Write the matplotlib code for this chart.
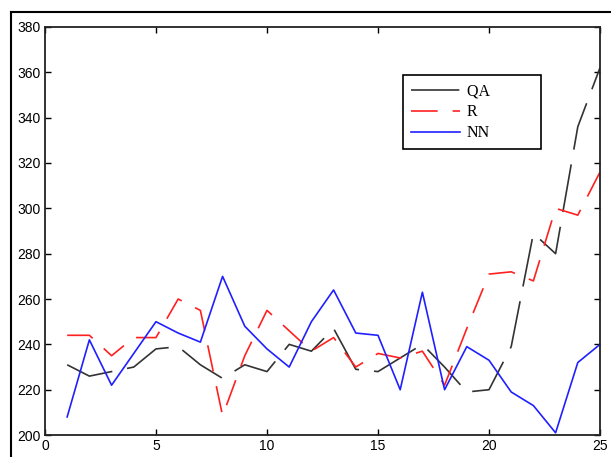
import numpy as np
import matplotlib
matplotlib.use("Agg")
import matplotlib.pyplot as plt
from matplotlib.lines import Line2D

# values
x = np.arange(1, 26)
qa = [231, 226, 228, 230, 238, 239, 231, 225, 231, 228, 240, 237, 247,
      229, 228, 234, 240, 230, 219, 220, 239, 289, 280, 336, 362]
r = [244, 244, 235, 243, 243, 260, 255, 208.5, 235, 255, 246, 237, 243,
     230, 236, 234, 237, 222, 247, 271, 272, 268, 300, 297, 316]
nn = [208, 242, 222, 236, 250, 245, 241, 270, 248, 238, 230, 250, 264,
      245, 244, 220, 263, 220, 239, 233, 219, 213, 201, 232, 240]

fig = plt.figure(figsize=(6.11, 4.57), dpi=100)
ax = fig.add_axes([0.0736, 0.048, 0.9084, 0.893])

l1, = ax.plot(x, qa, color="#333333", lw=1.2)
l1.set_dashes([29, 9])
l2, = ax.plot(x, r, color="#ff2020", lw=1.2)
l2.set_dashes([16, 9])
ax.plot(x, nn, color="#2020ff", lw=1.2)

ax.set_xlim(0, 25)
ax.set_ylim(200, 380)
ax.set_xticks([0, 5, 10, 15, 20, 25])
ax.set_yticks(np.arange(200, 381, 20))
ax.tick_params(direction="in", length=4, width=1, top=True, right=True,
               labelsize=10, pad=3)
for lab in ax.get_xticklabels() + ax.get_yticklabels():
    lab.set_family("Liberation Sans")
for s in ax.spines.values():
    s.set_linewidth(1.3)
    s.set_color("#222222")

leg = ax.legend(["QA           ", "R", "NN"], loc="upper left",
                bbox_to_anchor=(0.645, 0.882), borderaxespad=0,
                fancybox=False, framealpha=1, edgecolor="black",
                prop={"family": "Liberation Serif", "size": 11.5},
                handlelength=3.1, handletextpad=0.4, labelspacing=0.32,
                borderpad=0.5)
leg.get_frame().set_linewidth(1.2)

# outer frame of the screenshot (left and top edges only)
fig.add_artist(Line2D([0.018, 0.018], [0, 0.973], transform=fig.transFigure,
                      color="black", lw=1.5))
fig.add_artist(Line2D([0.018, 1], [0.973, 0.973], transform=fig.transFigure,
                      color="black", lw=1.5))

fig.savefig("out.png", dpi=100)
